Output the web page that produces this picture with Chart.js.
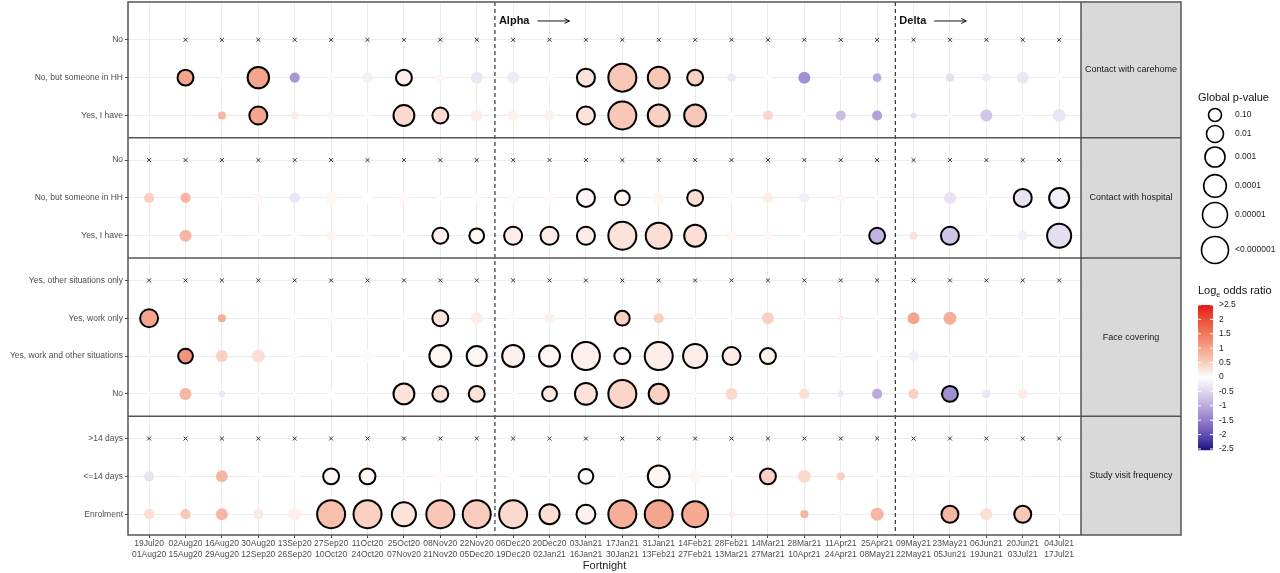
<!DOCTYPE html>
<html><head><meta charset="utf-8">
<script src="https://cdn.jsdelivr.net/npm/chart.js@4.4.1/dist/chart.umd.min.js"></script>
<style>html,body{margin:0;padding:0;background:#fff;overflow:hidden}#wrap{width:1280px;height:587px;margin-top:-14px}</style>
</head><body><div id="wrap"><canvas id="c"></canvas></div>
<script>
const N = null;
const fortnightStart = ['19Jul20','02Aug20','16Aug20','30Aug20','13Sep20','27Sep20','11Oct20','25Oct20','08Nov20','22Nov20','06Dec20','20Dec20','03Jan21','17Jan21','31Jan21','14Feb21','28Feb21','14Mar21','28Mar21','11Apr21','25Apr21','09May21','23May21','06Jun21','20Jun21','04Jul21'];
const fortnightEnd = ['01Aug20','15Aug20','29Aug20','12Sep20','26Sep20','10Oct20','24Oct20','07Nov20','21Nov20','05Dec20','19Dec20','02Jan21','16Jan21','30Jan21','13Feb21','27Feb21','13Mar21','27Mar21','10Apr21','24Apr21','08May21','22May21','05Jun21','19Jun21','03Jul21','17Jul21'];

const panelNames = ['Contact with carehome','Contact with hospital','Face covering','Study visit frequency'];
const rowLabels = [
  ['No','No, but someone in HH','Yes, I have'],
  ['No','No, but someone in HH','Yes, I have'],
  ['Yes, other situations only','Yes, work only','Yes, work and other situations','No'],
  ['>14 days','<=14 days','Enrolment']
];
const refFirstCol = [1,0,0,0];

const carehome_hh_lor = [N,1.0,0.05,1.0,-1.2,0.05,-0.2,0.2,0.1,-0.3,-0.25,0.05,0.3,0.6,0.6,0.5,-0.3,0.02,-1.3,0.02,-1.0,N,-0.4,-0.25,-0.3,0.02];
const carehome_hh_nlp = [N,1.7,0.08,3.5,0.5,0.08,0.5,1.7,0.25,0.8,0.8,0.25,2.3,6.5,3.7,1.7,0.25,0.08,0.8,0.01,0.3,N,0.25,0.25,0.8,0.08];
const carehome_yes_lor = [N,N,0.8,1.0,0.2,-0.1,0.02,0.4,0.4,0.2,0.15,0.15,0.3,0.6,0.5,0.6,0.02,0.4,0.02,-0.8,-1.1,-0.4,0.02,-0.7,0.02,-0.3];
const carehome_yes_nlp = [N,N,0.25,2.3,0.25,0.25,0.08,3.3,1.7,0.8,0.6,0.6,2.3,6.5,3.7,3.7,0.08,0.5,0.08,0.5,0.5,0.08,0.01,0.8,0.01,1.0];
const hosp_hh_lor = [0.5,0.8,0.02,0.1,-0.3,0.1,0,0.05,0.02,0.02,0.05,0.05,0.1,0.1,0.1,0.35,0.02,0.2,-0.2,0.1,0.02,N,-0.35,0.02,-0.35,-0.2];
const hosp_hh_nlp = [0.5,0.5,0.08,0.25,0.5,0.8,0.5,0.5,0.08,0.25,0.5,0.5,2.3,1.4,0.8,1.7,0.25,0.5,0.5,0.25,0.01,N,0.8,0.08,2.3,3.0];
const hosp_yes_lor = [N,0.8,0.02,0.02,0.02,0.1,0.02,0.02,0.15,0.1,0.2,0.2,0.2,0.3,0.35,0.35,0.1,0.1,0.02,0.02,-0.9,0.3,-0.7,0.02,-0.2,-0.4];
const hosp_yes_nlp = [N,0.8,0.08,0.08,0.08,0.5,0.08,0.08,1.7,1.4,2.3,2.3,2.3,6.5,5.5,3.7,0.5,0.5,0.08,0.01,1.7,0.25,2.3,0.08,0.5,4.6];
const face_work_lor = [1.0,N,0.9,N,0.02,0.05,0.02,0.02,0.3,0.2,0.05,0.15,0.02,0.5,0.5,0.02,0.02,0.5,0.02,0.2,0.02,1.0,0.9,0.02,0.02,0.02];
const face_work_nlp = [2.3,N,0.25,N,0.08,0.25,0.08,0.08,1.7,0.8,0.25,0.5,0.01,1.4,0.5,0.01,0.08,0.8,0.01,0.08,0.01,0.8,1.0,0.01,0.01,0.08];
const face_both_lor = [0.02,1.2,0.5,0.35,0.05,0.02,0.05,0.02,0.1,0.1,0.15,0.1,0.15,0.05,0.2,0.2,0.2,0.15,0.05,0.05,0.02,-0.2,0.02,0.02,0.02,0.02];
const face_both_nlp = [0.01,1.4,0.8,1.0,0.25,0.25,0.8,0.25,3.7,3.0,3.7,3.3,6.5,1.7,6.5,4.6,2.3,1.7,0.25,0.25,0.25,0.5,0.01,0.01,0.25,0.01];
const face_no_lor = [0.02,0.8,-0.3,0.02,0.02,0,0.02,0.3,0.3,0.3,0.02,0.25,0.3,0.45,0.5,0.05,0.4,0.02,0.35,-0.3,-1.0,0.5,-1.3,-0.3,0.2,0.02];
const face_no_nlp = [0.01,0.8,0.1,0.01,0.01,0.25,0.01,3.3,1.7,1.7,0.08,1.4,3.7,6.5,3.0,0.08,0.8,0.01,0.5,0.08,0.5,0.5,1.7,0.25,0.5,0.01];
const visit_le_lor = [-0.35,0.02,0.8,0.02,0.02,0.1,0.1,0.02,0.05,0.02,0.03,0.02,-0.05,0.05,0.1,0.1,0.02,0.5,0.4,0.5,0.02,0.1,-0.05,N,0.02,N];
const visit_le_nlp = [0.5,0.08,0.8,0.08,0.25,1.7,1.7,0.01,0.8,0.08,0.8,0.01,1.4,0.8,3.7,0.8,0.08,1.7,1.0,0.25,0.08,0.25,0.25,N,0.01,N];
const visit_enr_lor = [0.35,0.6,0.8,0.25,0.15,0.7,0.5,0.3,0.6,0.55,0.4,0.35,0.15,0.9,1.0,0.95,0.2,N,0.8,-0.1,0.8,N,0.8,0.35,0.6,0.02];
const visit_enr_nlp = [0.5,0.5,0.8,0.5,1.0,6.5,6.5,4.6,6.5,6.5,6.5,3.0,2.6,6.5,6.5,5.5,0.08,N,0.25,0.08,1.0,N,2.0,0.8,2.0,0.08];

const pLegendLabels = ['0.10','0.01','0.001','0.0001','0.00001','<0.000001'];
const pLegendNlp = [1,2,3,4,5,6];
const orTicks = ['>2.5','2','1.5','1','0.5','0','-0.5','-1','-1.5','-2','-2.5'];

const rowData = [
  [0,1,carehome_hh_lor,carehome_hh_nlp],[0,2,carehome_yes_lor,carehome_yes_nlp],
  [1,1,hosp_hh_lor,hosp_hh_nlp],[1,2,hosp_yes_lor,hosp_yes_nlp],
  [2,1,face_work_lor,face_work_nlp],[2,2,face_both_lor,face_both_nlp],[2,3,face_no_lor,face_no_nlp],
  [3,1,visit_le_lor,visit_le_nlp],[3,2,visit_enr_lor,visit_enr_nlp]
];

const GAP = 1.18;
const rowPos = [], flatLabels = [], panelBounds = [0];
let y = 1;
rowLabels.forEach((rows,p) => {
  const arr = [];
  rows.forEach(l => { arr.push(y); flatLabels.push(l); y += 1; });
  rowPos.push(arr);
  y += GAP - 1;
  if (p < rowLabels.length - 1) panelBounds.push((arr[arr.length-1] + y) / 2);
});
const yMax = rowPos[3][2] + 0.55;
panelBounds.push(yMax);
const allRowPos = rowPos.flat();

function rad(nlp){ return Math.max(1.6, 6.5 + (Math.sqrt(nlp) - 1) * 4.83); }
const posStops = [[0,[255,255,255]],[0.5,[250,208,194]],[1,[245,165,142]],[1.5,[240,124,98]],[2,[235,80,55]],[2.5,[232,25,26]]];
const negStops = [[0,[255,255,255]],[0.5,[222,214,238]],[1,[186,170,221]],[1.5,[146,124,202]],[2,[99,80,181]],[2.5,[26,20,130]]];
function color(v){
  const st = v >= 0 ? posStops : negStops; let a = Math.min(2.5, Math.abs(v));
  for (let i=1;i<st.length;i++){ if (a <= st[i][0]) { const t=(a-st[i-1][0])/(st[i][0]-st[i-1][0]);
    const c = st[i-1][1].map((x,k)=>Math.round(x+(st[i][1][k]-x)*t)); return `rgb(${c})`; } }
  return 'rgb(232,25,26)';
}

const bubbles = [];
rowData.forEach(([p,r,lor,nlp]) => {
  lor.forEach((v,i) => { if (v === null || nlp[i] === null) return;
    bubbles.push({x:i, y:rowPos[p][r], r:rad(nlp[i]), lor:v, sig:nlp[i] >= 1.3}); });
});
bubbles.sort((a,b)=>b.r-a.r);
const crosses = [];
rowPos.forEach((rows,p) => { for (let i=refFirstCol[p]; i<fortnightStart.length; i++) crosses.push({x:i,y:rows[0]}); });

const FONT = 'Liberation Sans';
const decor = {
  id:'decor',
  afterDraw(chart){
    const {ctx, chartArea:ca, scales:{x:xs,y:ys}} = chart;
    const T = ca.top; // page y=0 equivalent
    ctx.save();
    ctx.strokeStyle='#333'; ctx.lineWidth=1.2; ctx.setLineDash([4,3]);
    [9.5,20.5].forEach(v=>{const px=xs.getPixelForValue(v); ctx.beginPath(); ctx.moveTo(px,ca.top); ctx.lineTo(px,ca.bottom); ctx.stroke();});
    ctx.setLineDash([]);
    ctx.fillStyle='#111'; ctx.font=`bold 11px ${FONT}`; ctx.textBaseline='middle'; ctx.textAlign='left';
    [['Alpha',9.5],['Delta',20.5]].forEach(([t,v])=>{const px=xs.getPixelForValue(v)+4; const ty=T+19; ctx.fillText(t,px,ty);
      const w=ctx.measureText(t).width; const a0=px+w+8,a1=a0+32; ctx.strokeStyle='#111'; ctx.lineWidth=1;
      ctx.beginPath(); ctx.moveTo(a0,ty); ctx.lineTo(a1,ty); ctx.moveTo(a1-5,ty-2.5); ctx.lineTo(a1,ty); ctx.lineTo(a1-5,ty+2.5); ctx.stroke();});
    const sx0=ca.right, sx1=ca.right+100;
    ctx.fillStyle='#d9d9d9'; ctx.fillRect(sx0,ca.top,sx1-sx0,ca.bottom-ca.top);
    ctx.strokeStyle='#555'; ctx.lineWidth=1.5;
    ctx.strokeRect(ca.left,ca.top,sx1-ca.left,ca.bottom-ca.top);
    ctx.beginPath(); ctx.moveTo(sx0,ca.top); ctx.lineTo(sx0,ca.bottom); ctx.stroke();
    panelBounds.slice(1,-1).forEach(b=>{const py=ys.getPixelForValue(b); ctx.beginPath(); ctx.moveTo(ca.left,py); ctx.lineTo(sx1,py); ctx.stroke();});
    ctx.fillStyle='#1a1a1a'; ctx.font=`9px ${FONT}`; ctx.textAlign='center';
    panelNames.forEach((n,p)=>{const py=(ys.getPixelForValue(panelBounds[p])+ys.getPixelForValue(panelBounds[p+1]))/2; ctx.fillText(n,(sx0+sx1)/2,py);});
    ctx.textAlign='left'; ctx.fillStyle='#111'; ctx.font=`11px ${FONT}`; ctx.fillText('Global p-value',1198,T+96);
    const ly=[113,132,155,184,213,248];
    ctx.font=`8.5px ${FONT}`;
    pLegendNlp.forEach((n,i)=>{ctx.strokeStyle='#000'; ctx.lineWidth=1.6; ctx.beginPath(); ctx.arc(1215,T+ly[i],rad(n),0,Math.PI*2); ctx.stroke();
      ctx.fillStyle='#222'; ctx.fillText(pLegendLabels[i],1235,T+ly[i]);});
    ctx.font=`11px ${FONT}`; ctx.fillStyle='#111'; ctx.fillText('Log',1198,T+289);
    let w=ctx.measureText('Log').width; ctx.font=`7px ${FONT}`; ctx.fillText('e',1198+w,T+293);
    const w2=ctx.measureText('e').width; ctx.font=`11px ${FONT}`; ctx.fillText(' odds ratio',1198+w+w2,T+289);
    const by0=T+303, by1=T+447;
    for (let py=by0; py<=by1; py++){ const v=2.5-5*(py-by0)/(by1-by0); ctx.fillStyle=color(v); ctx.fillRect(1198,py,15,1.2); }
    ctx.font=`8.5px ${FONT}`; ctx.fillStyle='#222';
    orTicks.forEach((t,i)=>{const py=by0+(by1-by0)*i/(orTicks.length-1); ctx.fillText(t,1219,py);
      ctx.strokeStyle='#fff'; ctx.lineWidth=1; ctx.beginPath(); ctx.moveTo(1198,py); ctx.lineTo(1201,py); ctx.moveTo(1210,py); ctx.lineTo(1213,py); ctx.stroke();});
    ctx.restore();
  }
};

new Chart(document.getElementById('c'), {
  type:'bubble',
  data:{datasets:[
    {data:bubbles, backgroundColor:c=>color(c.raw.lor), borderColor:'#000', borderWidth:c=>c.raw.sig?2:0, hoverRadius:0},
    {type:'scatter', data:crosses, pointStyle:'crossRot', radius:2.8, borderColor:'#333', borderWidth:1, backgroundColor:'#333'}
  ]},
  options:{
    responsive:true, maintainAspectRatio:false, animation:false,
    layout:{padding:{top:0,right:199,left:0,bottom:0}},
    plugins:{legend:{display:false},tooltip:{enabled:false}},
    scales:{
      x:{type:'linear', min:-0.58, max:25.6,
        afterBuildTicks:s=>{s.ticks=fortnightStart.map((_,i)=>({value:i}));},
        afterFit:s=>{s.height=38;},
        ticks:{autoSkip:false, maxRotation:0, padding:1, color:'#4d4d4d', font:{family:FONT,size:8.5},
          callback:(v,i)=>[fortnightStart[i],fortnightEnd[i]]},
        grid:{color:'#ececec', tickColor:'#444', tickLength:3},
        border:{display:false},
        title:{display:true,text:'Fortnight',color:'#222',font:{family:FONT,size:11},padding:0}
      },
      y:{type:'linear', reverse:true, min:0, max:yMax,
        afterBuildTicks:s=>{s.ticks=allRowPos.map(v=>({value:v}));},
        afterFit:s=>{s.width=128;},
        ticks:{autoSkip:false, padding:2, color:'#4d4d4d', font:{family:FONT,size:8.5}, callback:(v,i)=>flatLabels[i]},
        grid:{color:'#ececec', tickColor:'#444', tickLength:3},
        border:{display:false}
      }
    }
  },
  plugins:[decor]
});
</script></body></html>
